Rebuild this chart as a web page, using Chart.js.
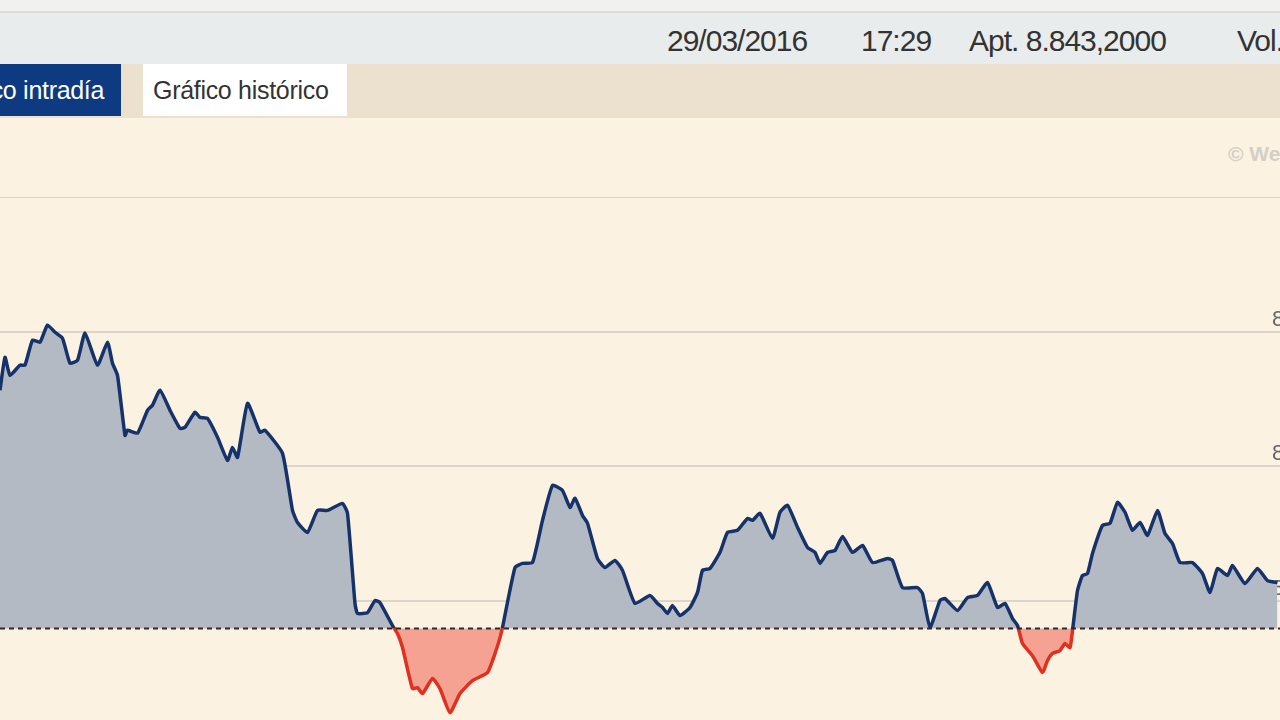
<!DOCTYPE html>
<html lang="es">
<head>
<meta charset="utf-8">
<title>Gráfico intradía</title>
<script src="https://cdn.jsdelivr.net/npm/chart.js@4.4.1/dist/chart.umd.min.js"></script>
<style>
  html, body { margin: 0; padding: 0; }
  body {
    width: 1280px; height: 720px; overflow: hidden; position: relative;
    background: #fcf2e2; font-family: 'Liberation Sans', Arial, sans-serif;
  }
  .topstrip { position: absolute; left: 0; top: 0; width: 1280px; height: 11px; background: #f1f1ef; border-bottom: 2px solid #dcdcda; }
  .quote { position: absolute; left: 0; top: 13px; width: 1280px; height: 51px; background: #e9ecec; color: #333; }
  .quote span { position: absolute; top: 12px; font-size: 30px; letter-spacing: -1px; line-height: 32px; white-space: nowrap; }
  .tabs { position: absolute; left: 0; top: 64px; width: 1280px; height: 54px; background: #ece1cf; }
  .tab { position: absolute; top: 0; height: 52px; line-height: 52px; font-size: 25px; letter-spacing: -0.3px; white-space: nowrap; box-sizing: border-box; }
  .tab.on { left: -72px; width: 193px; background: #0d3a80; color: #fff; padding-left: 10px; }
  .tab.off { left: 143px; width: 204px; background: #fff; color: #333; padding-left: 10px; }
  .mark { position: absolute; left: 1228px; top: 142px; font-size: 21px; font-weight: bold; color: #d3cec6; white-space: nowrap; }
  .plot { position: absolute; left: 0; top: 197px; width: 1330px; height: 538px; }
</style>
</head>
<body>
<div class="topstrip"></div>
<div class="quote">
  <span style="left:667px">29/03/2016</span>
  <span style="left:861px">17:29</span>
  <span style="left:969px">Apt. 8.843,2000</span>
  <span style="left:1237px">Vol.</span>
</div>
<div class="tabs">
  <div class="tab on">Gráfico intradía</div>
  <div class="tab off">Gráfico histórico</div>
</div>
<div class="mark">© WebFG</div>
<div class="plot"><canvas id="intraChart"></canvas></div>

<script>
// minutes since the session open (9:00)
var minutes = [
  0, 2, 4, 8, 10, 13, 16, 19, 22, 25,
  28, 31, 34, 39, 43, 45, 47, 50, 51, 55,
  59, 61, 64, 68, 72, 74, 78, 80, 83, 87,
  91, 93, 95, 99, 104, 106, 113, 117, 119, 123,
  127, 131, 137, 139, 142, 143, 147, 150, 152, 157,
  159, 161, 165, 167, 169, 173, 176, 180, 184, 189,
  195, 198, 200, 201, 206, 209, 213, 217, 221, 225,
  228, 230, 233, 235, 239, 242, 246, 249, 254, 260,
  263, 265, 267, 269, 272, 276, 279, 281, 284, 288,
  291, 295, 299, 301, 304, 309, 312, 315, 319, 323,
  326, 328, 331, 334, 337, 341, 345, 349, 355, 357,
  361, 367, 369, 372, 376, 378, 383, 387, 391, 395,
  399, 402, 405, 407, 409, 413, 417, 419, 421, 424,
  426, 428, 429, 431, 433, 435, 437, 441, 444, 447,
  450, 453, 456, 459, 463, 466, 469, 472, 477, 481,
  484, 487, 491, 493, 498, 503, 507, 511
];

var prices = [
  8828.2, 8840.4, 8833.7, 8837.5, 8837.5, 8846.8, 8846.0, 8852.4, 8849.7, 8847.5,
  8838.2, 8839.3, 8849.4, 8837.5, 8846.0, 8838.2, 8833.7, 8811.4, 8813.3, 8812.2,
  8820.7, 8822.6, 8828.2, 8820.7, 8814.0, 8814.4, 8820.0, 8818.1, 8817.7, 8810.7,
  8802.1, 8806.9, 8803.2, 8823.3, 8812.5, 8813.3, 8804.7, 8783.5, 8779.0, 8775.3,
  8783.5, 8783.5, 8786.1, 8782.4, 8748.9, 8745.2, 8745.5, 8750.0, 8749.2, 8740.7,
  8737.7, 8732.5, 8717.2, 8717.6, 8715.4, 8721.0, 8717.2, 8708.3, 8715.4, 8720.2,
  8723.2, 8730.3, 8736.2, 8740.0, 8762.3, 8763.8, 8764.1, 8779.8, 8792.8, 8790.9,
  8784.6, 8788.0, 8781.6, 8778.7, 8765.6, 8762.3, 8764.9, 8761.2, 8748.9, 8751.9,
  8748.9, 8747.4, 8745.2, 8748.1, 8744.4, 8747.4, 8753.0, 8761.2, 8761.9, 8767.9,
  8775.3, 8776.1, 8780.5, 8779.8, 8782.4, 8773.1, 8782.8, 8785.4, 8777.2, 8769.7,
  8767.9, 8763.8, 8767.9, 8768.6, 8773.8, 8767.9, 8770.5, 8764.1, 8765.6, 8764.9,
  8754.8, 8754.8, 8752.6, 8740.0, 8750.0, 8750.7, 8746.3, 8751.1, 8751.9, 8756.7,
  8747.4, 8748.9, 8743.3, 8740.7, 8734.0, 8729.5, 8723.2, 8727.7, 8730.3, 8731.4,
  8734.0, 8732.5, 8738.8, 8753.7, 8759.3, 8760.0, 8767.5, 8777.9, 8778.7, 8786.5,
  8782.8, 8776.1, 8779.0, 8774.2, 8783.5, 8774.9, 8771.2, 8764.1, 8764.1, 8760.0,
  8753.0, 8761.9, 8759.3, 8763.0, 8756.3, 8761.9, 8757.4, 8756.7
];

var prevClose = 8739.6;   // dashed reference line
var yTicks = [8700, 8750, 8800, 8850, 8900];
var yLabelled = [8750, 8800, 8850];

var NAVY = '#15336a';
var RED = '#e0301f';

function fmtEs(v) {
  return String(v).replace(/\B(?=(\d{3})+(?!\d))/g, '.');
}

// line colour switches from navy to red at the reference level
function splitColor(ctx) {
  var chart = ctx.chart;
  var area = chart.chartArea;
  if (!area) return NAVY;
  var yb = chart.scales.y.getPixelForValue(prevClose);
  var t = (yb - area.top) / (area.bottom - area.top);
  t = Math.max(0, Math.min(1, t));
  var g = chart.ctx.createLinearGradient(0, area.top, 0, area.bottom);
  g.addColorStop(0, NAVY);
  g.addColorStop(t, NAVY);
  g.addColorStop(t, RED);
  g.addColorStop(1, RED);
  return g;
}

var refLine = {
  id: 'refLine',
  afterDatasetsDraw: function (chart) {
    var c = chart.ctx;
    var area = chart.chartArea;
    var y = Math.round(chart.scales.y.getPixelForValue(prevClose)) + 0.5;
    c.save();
    c.strokeStyle = '#2b2b2b';
    c.lineWidth = 2;
    c.setLineDash([5, 4]);
    c.beginPath();
    c.moveTo(area.left, y);
    c.lineTo(area.right, y);
    c.stroke();
    c.restore();
  }
};

var points = minutes.map(function (m, i) { return { x: m, y: prices[i] }; });

new Chart(document.getElementById('intraChart'), {
  type: 'line',
  data: {
    datasets: [{
      label: 'IBEX 35',
      data: points,
      borderColor: splitColor,
      borderWidth: 3.5,
      tension: 0.15,
      pointRadius: 0,
      fill: { target: { value: prevClose }, above: '#b4bac4', below: '#f5a293' }
    }]
  },
  options: {
    responsive: true,
    maintainAspectRatio: false,
    animation: false,
    layout: { padding: 0 },
    plugins: { legend: { display: false }, tooltip: { enabled: false } },
    scales: {
      x: { type: 'linear', min: 0, max: 532, display: false },
      y: {
        position: 'right',
        min: yTicks[0],
        max: yTicks[yTicks.length - 1],
        afterBuildTicks: function (scale) {
          scale.ticks = yTicks.map(function (v) { return { value: v }; });
        },
        afterFit: function (scale) {
          scale.width = 0;
          scale.paddingTop = 0;
          scale.paddingBottom = 0;
        },
        border: { display: false },
        grid: { color: '#dbd5cb', lineWidth: 2, drawTicks: false },
        ticks: {
          mirror: true,
          padding: -3,
          labelOffset: -12,
          color: '#666',
          font: { family: 'Liberation Sans', size: 22 },
          callback: function (v) { return yLabelled.indexOf(v) >= 0 ? fmtEs(v) : ''; }
        }
      }
    }
  },
  plugins: [refLine]
});
</script>
</body>
</html>
